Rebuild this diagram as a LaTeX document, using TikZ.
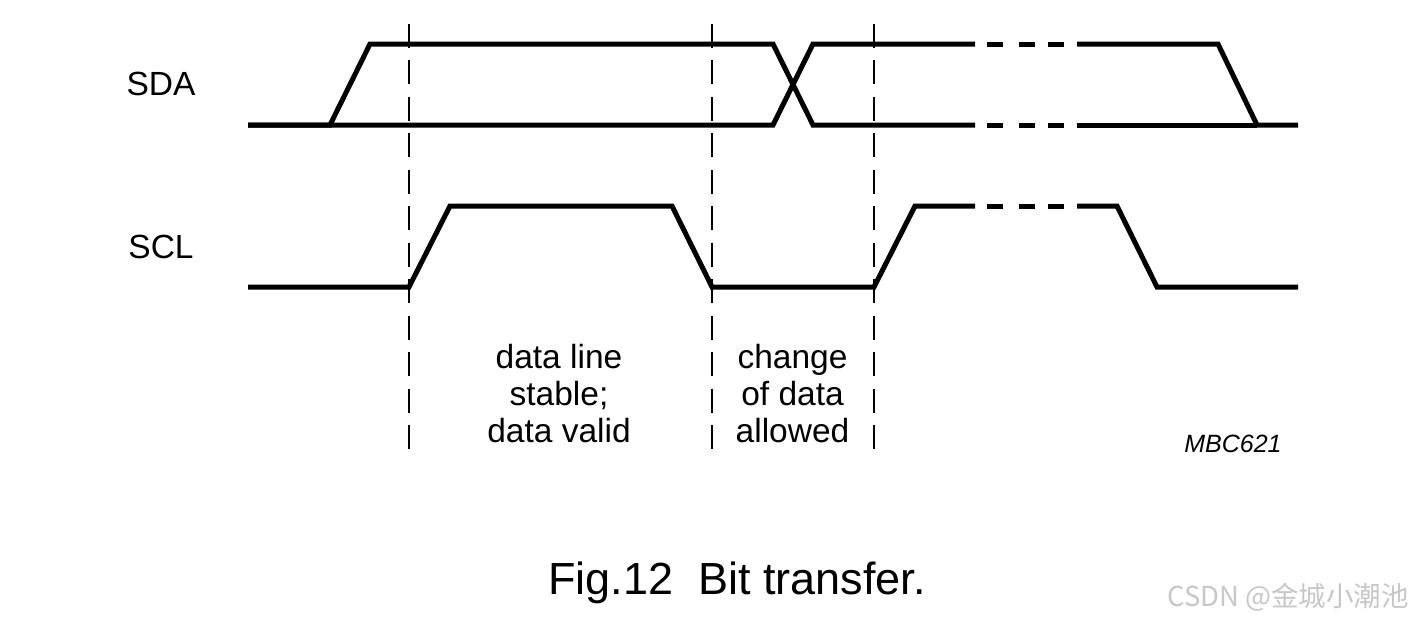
\documentclass[tikz,border=0pt]{standalone}
\usepackage{fontspec}
\setmainfont{Liberation Sans}
\newfontfamily\cjkfont{Noto Sans CJK SC}
\begin{document}
\begin{tikzpicture}[x=1pt,y=-1pt,
  sig/.style={line width=5pt, line join=miter},
  guide/.style={line width=2.4pt, dash pattern=on 24pt off 12.45pt},
  lbl/.style={font=\fontsize{33.5}{37}\selectfont, inner sep=0pt, anchor=base},
]
\useasboundingbox (0,0) rectangle (1408,622);
% signal labels
\node[lbl] (sda) at (161,95) {SDA};
\node[lbl] (scl) at (161,258) {SCL};
% guide lines
\coordinate (g1t) at (409,24);  \coordinate (g1b) at (409,450);
\coordinate (g2t) at (712,24);  \coordinate (g2b) at (712,450);
\coordinate (g3t) at (874,24);  \coordinate (g3b) at (874,450);
\draw[guide] (g1t) -- (g1b);
\draw[guide] (g2t) -- (g2b);
\draw[guide] (g3t) -- (g3b);
% SDA
\draw[sig] (248,125) -- (330,125) -- (370,44) -- (773,44) -- (813,125) -- (975,125);
\draw[sig] (248,125) -- (773,125) -- (813,44) -- (975,44);
\draw[sig] (1077,44) -- (1218,44) -- (1257,125) -- (1298,125);
\draw[sig] (1077,125) -- (1257,125);
% SCL
\draw[sig] (248,287) -- (409,287) -- (450,206) -- (672,206) -- (712,287) -- (874,287) -- (915,206) -- (975,206);
\draw[sig] (1077,206) -- (1117,206) -- (1157,287) -- (1298,287);
% continuation dashes
\foreach \yy in {44,125,206}{
  \draw[line width=5pt] (987,\yy) -- (1003,\yy);
  \draw[line width=5pt] (1019,\yy) -- (1035,\yy);
  \draw[line width=5pt] (1048,\yy) -- (1064,\yy);
}
% region texts
\node[lbl] (d1) at (559,368) {data line};
\node[lbl] (d2) at (559,405) {stable;};
\node[lbl] (d3) at (559,442) {data valid};
\node[lbl] (c1) at (792.5,368) {change};
\node[lbl] (c2) at (792.5,405) {of data};
\node[lbl] (c3) at (792.5,442) {allowed};
% code
\node[font=\fontsize{25}{30}\selectfont\itshape, inner sep=0pt, anchor=base] (mbc) at (1233,452) {MBC621};
% caption
\node[font=\fontsize{45}{54}\selectfont, inner sep=0pt, anchor=base] (cap) at (737,594) {Fig.12\ \ Bit transfer.};
% watermark
\node[font=\cjkfont\fontsize{27.5}{30}\selectfont, text=black!22, inner sep=0pt, anchor=base west] (wm) at (1167,606) {CSDN @金城小潮池};
\end{tikzpicture}
\end{document}
